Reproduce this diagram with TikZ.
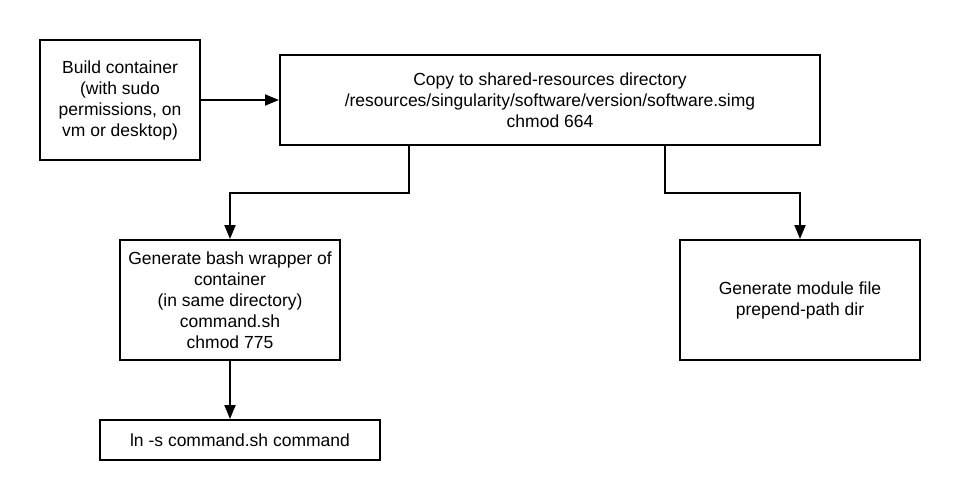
\documentclass[tikz,border=0pt]{standalone}
\usepackage{fontspec}
\setmainfont{Liberation Sans}
\usetikzlibrary{arrows.meta}
\begin{document}
\begin{tikzpicture}[x=1pt, y=-1pt,
    box/.style={draw, line width=2pt, align=center, inner sep=0pt,
      font=\fontsize{17.5}{21}\selectfont},
    arr/.style={line width=2pt, -{Triangle[length=14pt, width=11pt]}}]
    \useasboundingbox (0, 0) rectangle (960, 500);

    \node[box, minimum width=160pt, minimum height=120pt] (build) at (120, 100)
      {Build container\\(with sudo\\permissions, on\\vm or desktop)};
    \node[box, minimum width=540pt, minimum height=90pt] (copy) at (550, 100)
      {Copy to shared-resources directory\\/resources/singularity/software/version/software.simg\\chmod 664};
    \node[box, minimum width=220pt, minimum height=120pt] (wrapper) at (230, 300)
      {Generate bash wrapper of\\container\\(in same directory)\\command.sh\\chmod 775};
    \node[box, minimum width=240pt, minimum height=120pt] (module) at (800, 300)
      {Generate module file\\prepend-path dir};
    \node[box, minimum width=280pt, minimum height=40pt] (link) at (240, 440)
      {ln -s command.sh command};

    \draw[arr] (build.east) -- (copy.west);
    \draw[arr] ([xshift=-141pt]copy.south) -- ++(0, 47) -| (wrapper.north);
    \draw[arr] ([xshift=115pt]copy.south) -- ++(0, 47) -| (module.north);
    \draw[arr] (wrapper.south) -- (wrapper.south |- link.north);
  \end{tikzpicture}
\end{document}
